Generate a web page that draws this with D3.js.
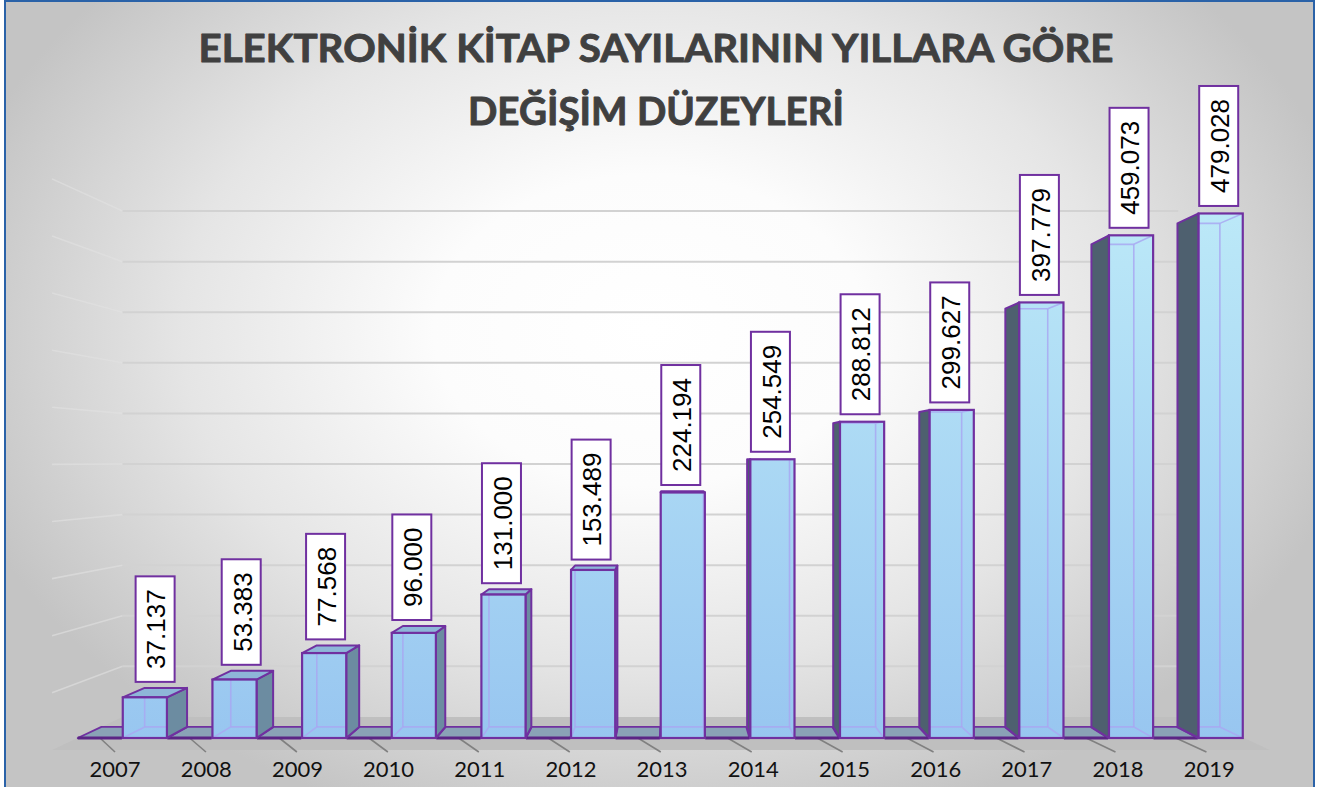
<!DOCTYPE html>
<html><head><meta charset="utf-8">
<script src="https://cdn.jsdelivr.net/npm/d3@7"></script>
<style>html,body{margin:0;padding:0;background:#fff;} svg{display:block}</style>
</head><body>
<script>
// ---------- DATA ----------
const years = ["2007","2008","2009","2010","2011","2012","2013","2014","2015","2016","2017","2018","2019"];
const values = [37137, 53383, 77568, 96000, 131000, 153489, 224194, 254549, 288812, 299627, 397779, 459073, 479028];
const baseValues = [0,0,0,0,0,0,0,0,0,0,0,0,0];
const gridTicks = [0,50000,100000,150000,200000,250000,300000,350000,400000,450000,500000];
const titleLines = ["ELEKTRONİK KİTAP SAYILARININ YILLARA GÖRE", "DEĞİŞİM DÜZEYLERİ"];

// ---------- SETUP ----------
const W = 1320, H = 787;
const VP = {x: 670, y: 461};
const S_WALL = 0.924, S_BACK = 0.96, S_EDGE = 1.043;
const proj = (X, Y, s) => [VP.x + (X - VP.x) * s, VP.y + (Y - VP.y) * s];
const PURPLE = "#7030a0";

const x = d3.scaleBand().domain(years).range([77.5, 1243]).paddingInner(0).paddingOuter(0);
const xs = d3.scaleBand().domain(["base", "value"]).range([0, x.bandwidth()]).paddingInner(0.02).paddingOuter(0.005);
const y = d3.scaleLinear().domain([0, 500000]).range([738, 738 - 547.5]);
const fmt = d3.formatLocale({decimal: ",", thousands: ".", grouping: [3], currency: ["", ""]}).format(",");

const svg = d3.select("body").append("svg").attr("width", W).attr("height", H);
const defs = svg.append("defs");

const bg = defs.append("radialGradient").attr("id", "bg")
  .attr("gradientUnits", "userSpaceOnUse").attr("cx", 0).attr("cy", 0).attr("r", 720)
  .attr("gradientTransform", "translate(650,330) scale(1,0.72)");
[[0, "#ffffff"], [0.3, "#fcfcfc"], [0.65, "#e5e5e5"], [1, "#c4c4c4"]].forEach(([o, c]) =>
  bg.append("stop").attr("offset", o).attr("stop-color", c));

const fg = defs.append("linearGradient").attr("id", "front")
  .attr("gradientUnits", "userSpaceOnUse").attr("x1", 0).attr("y1", 190).attr("x2", 0).attr("y2", 738);
[[0, "#bdeaf8"], [1, "#98c6f0"]].forEach(([o, c]) => fg.append("stop").attr("offset", o).attr("stop-color", c));

// background + border
svg.append("rect").attr("x", 5).attr("y", 1).attr("width", 1309).attr("height", H + 10)
  .attr("fill", "url(#bg)").attr("stroke", "#2a62a8").attr("stroke-width", 2);

// ---------- WALLS / GRID ----------
const X0 = x.range()[0], X1 = x.range()[1], XW1 = 1220;
const gGrid = svg.append("g");
gridTicks.slice(1).forEach(t => {
  const a = proj(X0, y(t), S_WALL), b = proj(XW1, y(t), S_WALL), c = proj(X0, y(t), S_EDGE);
  gGrid.append("line").attr("x1", c[0]).attr("y1", c[1]).attr("x2", a[0]).attr("y2", a[1])
    .attr("stroke", "#e2e2e2").attr("stroke-width", 1.6).attr("opacity", 0.6);
  gGrid.append("line").attr("x1", a[0]).attr("y1", a[1]).attr("x2", b[0]).attr("y2", b[1])
    .attr("stroke", "#d2d2d2").attr("stroke-width", 2);
});

// floor
const floorPts = [proj(X0, y(0), S_WALL), proj(X1, y(0), S_WALL), proj(X1 + 2, y(0), S_EDGE), proj(X0, y(0), S_EDGE)];
svg.append("polygon").attr("points", floorPts.map(p => p.join(",")).join(" ")).attr("fill", "#bfbfbf");

// ticks
const gTicks = svg.append("g");
years.forEach(yr => {
  const tx = x(yr) + 22.5;
  gTicks.append("line").attr("x1", tx).attr("y1", y(0)).attr("x2", tx + 15 + 0.0145 * (tx - 100)).attr("y2", y(0) + 14)
    .attr("stroke", "#808080").attr("stroke-width", 1.6);
});

// ---------- BOXES ----------
const pts = arr => arr.map(p => p.join(",")).join(" ");
let clipId = 0;
function drawBox(g, XL, XR, Yt, Yb, flat) {
  const fTL = [XL, Yt], fTR = [XR, Yt], fBR = [XR, Yb], fBL = [XL, Yb];
  const bTL = proj(XL, Yt, S_BACK), bTR = proj(XR, Yt, S_BACK), bBR = proj(XR, Yb, S_BACK), bBL = proj(XL, Yb, S_BACK);
  if (flat) {
    g.append("polygon").attr("points", pts([fTL, fTR, bTR, bTL])).attr("fill", "#8aa2b6")
      .attr("stroke", PURPLE).attr("stroke-width", 1.8).attr("stroke-linejoin", "round");
    g.append("line").attr("x1", XL).attr("y1", Yb).attr("x2", XR).attr("y2", Yb)
      .attr("stroke", "#5b2585").attr("stroke-width", 3.2);
    return;
  }
  if (XR < VP.x) {
    g.append("polygon").attr("points", pts([fTR, bTR, bBR, fBR])).attr("fill", "#6c8ca1")
      .attr("stroke", PURPLE).attr("stroke-width", 2).attr("stroke-linejoin", "round");
  } else if (XL > VP.x) {
    g.append("polygon").attr("points", pts([fTL, bTL, bBL, fBL])).attr("fill", "#4e606f")
      .attr("stroke", PURPLE).attr("stroke-width", 2).attr("stroke-linejoin", "round");
  }
  if (Yt > VP.y) {
    g.append("polygon").attr("points", pts([fTL, fTR, bTR, bTL])).attr("fill", "#8eb6d8")
      .attr("stroke", PURPLE).attr("stroke-width", 2).attr("stroke-linejoin", "round");
  }
  g.append("rect").attr("x", XL).attr("y", Yt).attr("width", XR - XL).attr("height", Yb - Yt).attr("fill", "url(#front)");
  const id = "clip" + (clipId++);
  defs.append("clipPath").attr("id", id).append("rect").attr("x", XL).attr("y", Yt).attr("width", XR - XL).attr("height", Yb - Yt);
  const hg = g.append("g").attr("clip-path", `url(#${id})`);
  const edges = [[bTL, bTR], [bTR, bBR], [bBR, bBL], [bBL, bTL], [fTL, bTL], [fTR, bTR], [fBR, bBR], [fBL, bBL]];
  edges.forEach(([a, b]) => hg.append("line").attr("x1", a[0]).attr("y1", a[1]).attr("x2", b[0]).attr("y2", b[1])
    .attr("stroke", "#a9a8f2").attr("stroke-width", 1.6).attr("opacity", 0.85));
  g.append("rect").attr("x", XL).attr("y", Yt).attr("width", XR - XL).attr("height", Yb - Yt)
    .attr("fill", "none").attr("stroke", PURPLE).attr("stroke-width", 2.2);
}

const gBase = svg.append("g");
years.forEach((yr, i) => {
  const XL = x(yr) + xs("base");
  drawBox(gBase, XL, XL + xs.bandwidth(), y(baseValues[i]), y(0), true);
});
const gBars = svg.append("g");
years.forEach((yr, i) => {
  const XL = x(yr) + xs("value");
  drawBox(gBars, XL, XL + xs.bandwidth(), y(values[i]), y(0), false);
});

// ---------- VALUE LABELS ----------
const gLab = svg.append("g");
years.forEach((yr, i) => {
  const XL = x(yr) + xs("value"), XR = XL + xs.bandwidth();
  const Yt = y(values[i]);
  const backTop = proj(XL, Yt, S_BACK)[1];
  const bottom = Math.min(Yt - 7.5, backTop - 6);
  const txt = fmt(values[i]);
  const t = gLab.append("text").text(txt)
    .attr("font-family", "'Liberation Sans', Arial, sans-serif").attr("font-size", 26)
    .attr("fill", "#000").attr("text-anchor", "middle").attr("dy", "0.36em");
  const len = t.node().getComputedTextLength();
  const h = len + 26, w = 39;
  const shift = Yt > VP.y ? Math.max(0, (Yt - backTop) - 7) * 5 : 0;
  const cx = (XL + XR) / 2 - 2 + shift, cy = bottom - h / 2;
  gLab.insert("rect", "text").attr("x", cx - w / 2).attr("y", bottom - h).attr("width", w).attr("height", h)
    .attr("fill", "#fff").attr("stroke", PURPLE).attr("stroke-width", 2);
  t.attr("transform", `translate(${cx + 1},${cy}) rotate(-90)`);
});

// ---------- CATEGORY LABELS ----------
svg.append("g").selectAll("text").data(years).join("text")
  .attr("x", d => VP.x + (x(d) + x.bandwidth() / 2 + 2 - VP.x) * 1.017)
  .attr("y", 777).attr("text-anchor", "middle")
  .attr("font-family", "Lato, 'Open Sans', sans-serif").attr("font-size", 22).attr("fill", "#111")
  .text(d => d);

// ---------- TITLE ----------
const titleWidths = [915, 376];
svg.append("g").selectAll("text").data(titleLines).join("text")
  .attr("x", 656).attr("y", (d, i) => 62 + i * 63).attr("text-anchor", "middle")
  .attr("font-family", "Lato, 'Open Sans', sans-serif").attr("font-weight", 700).attr("font-size", 38)
  .attr("fill", "#404040").attr("stroke", "#404040").attr("stroke-width", 0.9).attr("stroke-linejoin", "round")
  .attr("textLength", (d, i) => titleWidths[i]).attr("lengthAdjust", "spacingAndGlyphs")
  .text(d => d);
</script>
</body></html>
